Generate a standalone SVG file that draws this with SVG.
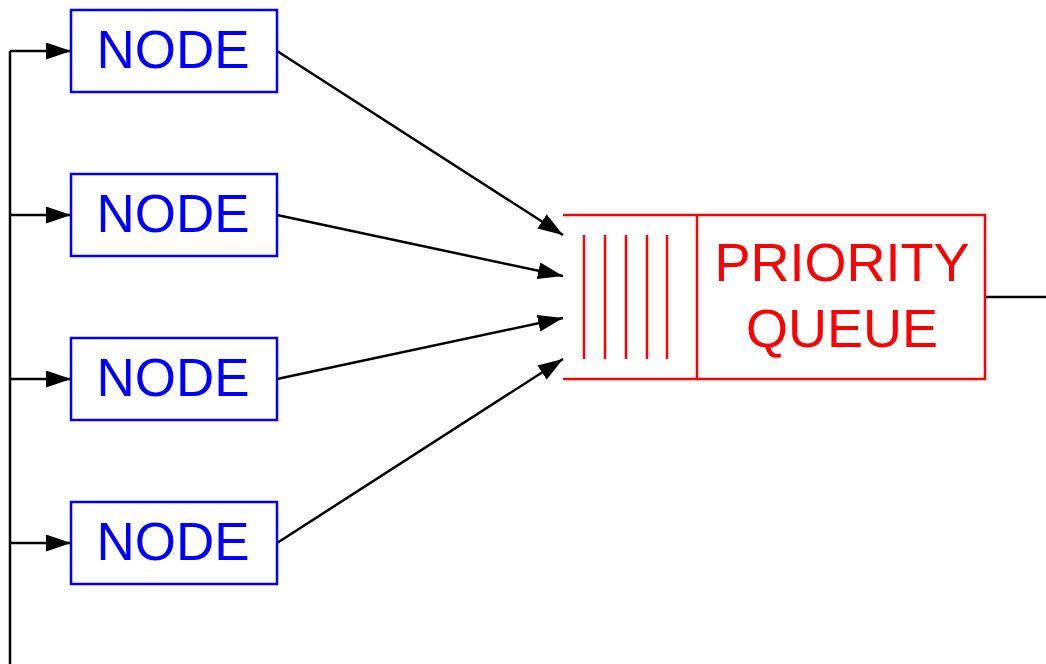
<svg xmlns="http://www.w3.org/2000/svg" width="1046" height="664" viewBox="0 0 1046 664">
<style>
.node rect{fill:none;stroke:#0000ff;stroke-width:2.5}
.node text{fill:#0000ff;font-family:"Liberation Sans",Arial,sans-serif;font-size:53px;text-anchor:middle}
.q line,.q path{stroke:#ff0000;stroke-width:2.5;fill:none}
.q text{fill:#ff0000;font-family:"Liberation Sans",Arial,sans-serif;font-size:54px;text-anchor:middle}
.c{stroke:#000;stroke-width:2.5;fill:none}
.ca{stroke:#000;stroke-width:2.5;fill:none;marker-end:url(#ah)}
</style>
<defs>
<marker id="ah" markerUnits="userSpaceOnUse" markerWidth="26" markerHeight="18" refX="25" refY="8.5" orient="auto">
<path d="M0,0 L25,8.5 L0,17 Z" fill="#000"/>
</marker>
</defs>
<rect width="1046" height="664" fill="#fff"/>
<g id="connectors">
<path class="c" d="M10,664 V51"/>
<path class="ca" d="M10,51 H71"/>
<path class="ca" d="M10,215 H71"/>
<path class="ca" d="M10,379 H71"/>
<path class="ca" d="M10,543 H71"/>
<path class="ca" d="M277,51 L563,235"/>
<path class="ca" d="M277,215 L563,276"/>
<path class="ca" d="M277,379 L563,318"/>
<path class="ca" d="M277,543 L563,359"/>
<path class="c" d="M985,297 H1046"/>
</g>
<g id="node1" class="node"><rect x="71" y="10" width="206" height="82"/><text x="173" y="68">NODE</text></g>
<g id="node2" class="node"><rect x="71" y="174" width="206" height="82"/><text x="173" y="232">NODE</text></g>
<g id="node3" class="node"><rect x="71" y="338" width="206" height="82"/><text x="173" y="396">NODE</text></g>
<g id="node4" class="node"><rect x="71" y="502" width="206" height="82"/><text x="173" y="560">NODE</text></g>
<g id="queue" class="q">
<path d="M563,215 H985 V379 H563"/>
<line x1="697" y1="215" x2="697" y2="380"/>
<line x1="584" y1="235" x2="584" y2="359"/>
<line x1="605" y1="235" x2="605" y2="359"/>
<line x1="626" y1="235" x2="626" y2="359"/>
<line x1="647" y1="235" x2="647" y2="359"/>
<line x1="667" y1="235" x2="667" y2="359"/>
<text x="842" y="281">PRIORITY</text>
<text x="842" y="347">QUEUE</text>
</g>
</svg>
